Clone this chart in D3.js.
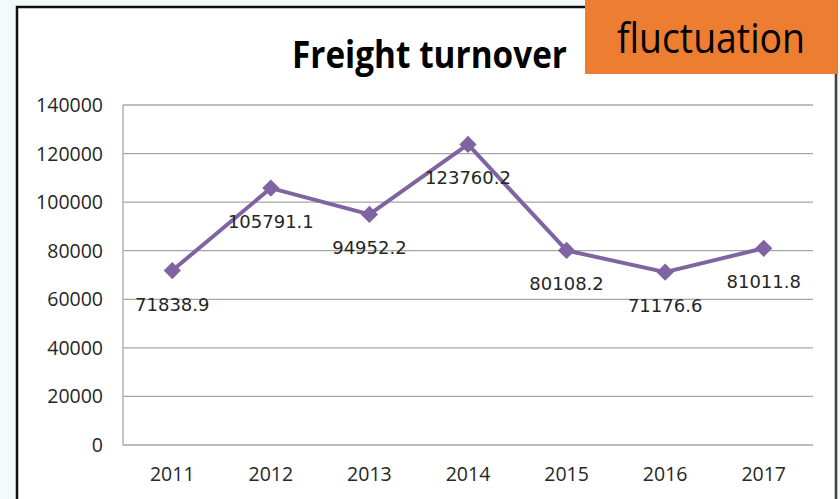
<!DOCTYPE html>
<html>
<head>
<meta charset="utf-8">
<script src="https://cdn.jsdelivr.net/npm/d3@7"></script>
<style>
  body { margin: 0; background: #f4fafc; }
  svg { display: block; }
</style>
</head>
<body>
<div id="chart"></div>
<script>
// data
var years = ["2011", "2012", "2013", "2014", "2015", "2016", "2017"];
var turnover = [71838.9, 105791.1, 94952.2, 123760.2, 80108.2, 71176.6, 81011.8];
var yTicks = [0, 20000, 40000, 60000, 80000, 100000, 120000, 140000];

var W = 840, H = 499;
var m = {left: 123, right: 27, top: 105, bottom: 54};

var svg = d3.select("#chart").append("svg")
    .attr("width", W)
    .attr("height", H);

// white chart frame with dark border
svg.append("rect")
    .attr("x", 17).attr("y", 7)
    .attr("width", 819).attr("height", H)
    .style("fill", "#fff")
    .style("stroke", "#111")
    .style("stroke-width", 2.5);
svg.append("line")
    .attr("x1", 836).attr("x2", 836).attr("y1", 7).attr("y2", H)
    .style("stroke", "#555").style("stroke-width", 1.5);

var x = d3.scalePoint()
    .domain(years)
    .range([m.left, W - m.right])
    .padding(0.5);

var y = d3.scaleLinear()
    .domain([0, 140000])
    .range([H - m.bottom, m.top]);

// gridlines
svg.append("g")
    .selectAll("line")
    .data(yTicks)
    .enter().append("line")
      .attr("x1", m.left)
      .attr("x2", W - m.right)
      .attr("y1", function(d) { return y(d); })
      .attr("y2", function(d) { return y(d); })
      .style("stroke", "#a6a6a6")
      .style("stroke-width", 1.3);

svg.append("line")
    .attr("x1", m.left).attr("x2", m.left)
    .attr("y1", y(140000)).attr("y2", y(0))
    .style("stroke", "#a6a6a6").style("stroke-width", 1.3);

// y axis labels
svg.append("g")
    .selectAll("text")
    .data(yTicks)
    .enter().append("text")
      .attr("x", 103)
      .attr("y", function(d) { return y(d); })
      .attr("dy", "0.36em")
      .style("text-anchor", "end")
      .style("font-family", "Open Sans")
      .style("font-size", "19.5px")
      .style("fill", "#262626")
      .text(function(d) { return d; });

// x axis labels
svg.append("g")
    .selectAll("text")
    .data(years)
    .enter().append("text")
      .attr("x", function(d) { return x(d); })
      .attr("y", 481)
      .style("text-anchor", "middle")
      .style("font-family", "Open Sans")
      .style("font-size", "19.5px")
      .style("fill", "#262626")
      .text(function(d) { return d; });

var pts = years.map(function(d, i) { return {year: d, value: turnover[i]}; });

// line
svg.append("path")
    .datum(pts)
    .attr("d", d3.line()
        .x(function(d) { return x(d.year); })
        .y(function(d) { return y(d.value); }))
    .style("fill", "none")
    .style("stroke", "#8064a2")
    .style("stroke-width", 4)
    .style("stroke-linejoin", "round");

// diamond markers
svg.append("g")
    .selectAll("path")
    .data(pts)
    .enter().append("path")
      .attr("transform", function(d) { return "translate(" + x(d.year) + "," + y(d.value) + ")"; })
      .attr("d", d3.symbol().type(d3.symbolDiamond2).size(190))
      .style("fill", "#8064a2");

// value labels
svg.append("g")
    .selectAll("text")
    .data(pts)
    .enter().append("text")
      .attr("x", function(d) { return x(d.year); })
      .attr("y", function(d) { return y(d.value) + 40; })
      .style("text-anchor", "middle")
      .style("font-family", "DejaVu Sans")
      .style("font-size", "18px")
      .style("fill", "#262626")
      .text(function(d) { return d.value.toFixed(1); });

// title
svg.append("text")
    .attr("x", 292)
    .attr("y", 68)
    .attr("textLength", 275)
    .attr("lengthAdjust", "spacingAndGlyphs")
    .style("font-family", "Open Sans")
    .style("font-weight", "bold")
    .style("font-size", "37px")
    .style("fill", "#000")
    .text("Freight turnover");

// orange tag
svg.append("rect")
    .attr("x", 585).attr("y", 0)
    .attr("width", 253).attr("height", 74)
    .style("fill", "#ed7d31");
svg.append("text")
    .attr("x", 617)
    .attr("y", 53)
    .attr("textLength", 188)
    .attr("lengthAdjust", "spacingAndGlyphs")
    .style("font-family", "Open Sans")
    .style("font-size", "42px")
    .style("fill", "#000")
    .text("fluctuation");
</script>
</body>
</html>
